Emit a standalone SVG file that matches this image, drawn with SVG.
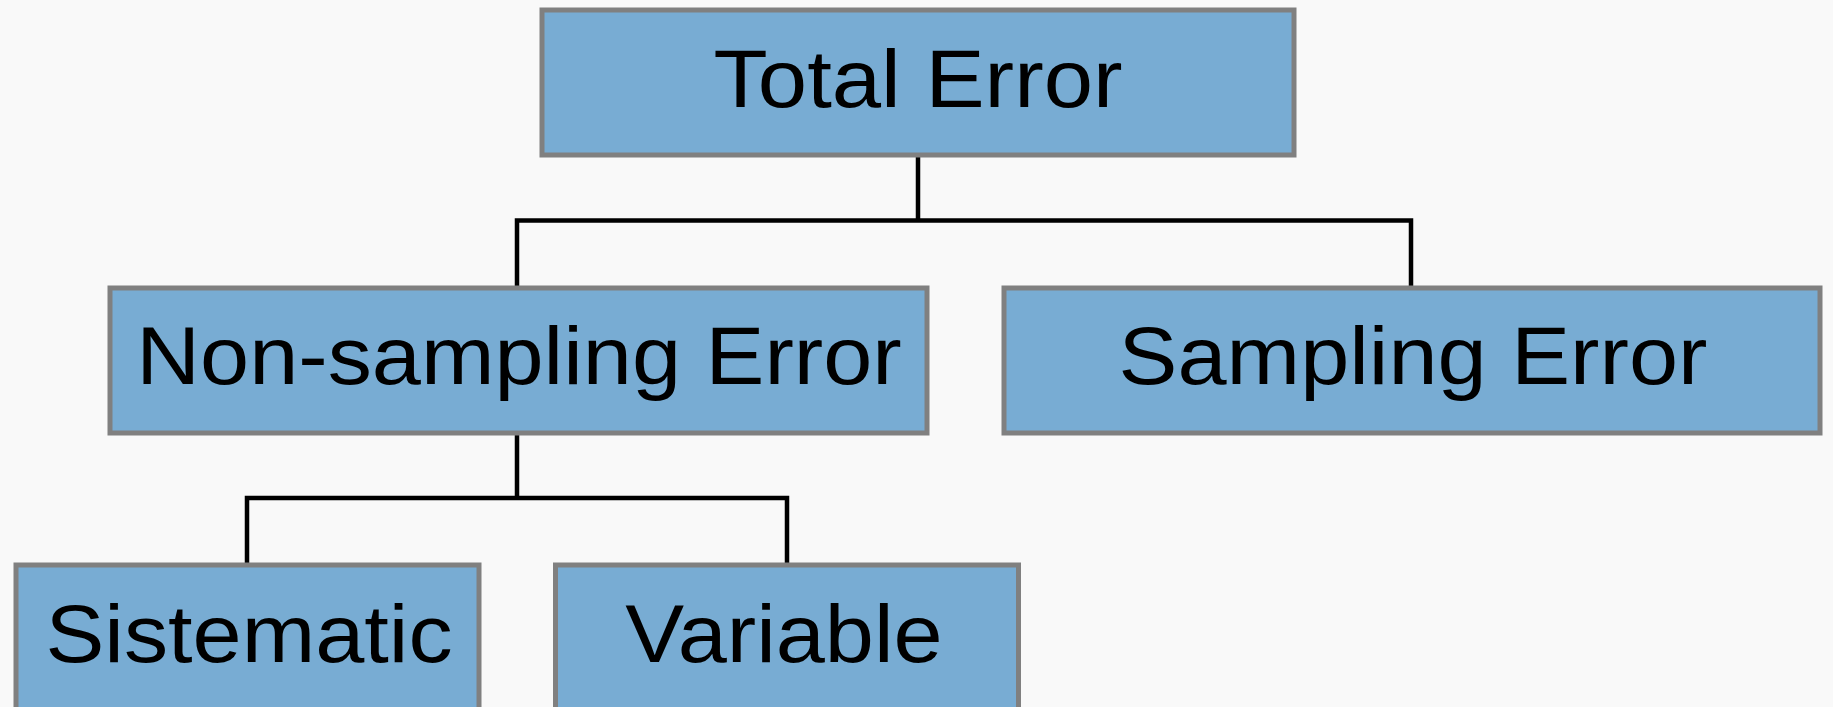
<svg xmlns="http://www.w3.org/2000/svg" width="1833" height="707" viewBox="0 0 1833 707">
  <style>
    .box { fill: #78acd3; stroke: #808080; stroke-width: 5; }
    .label { font-family: "Liberation Sans", Arial, sans-serif; font-size: 81px; fill: #000; text-anchor: middle; }
    .link { fill: none; stroke: #000; stroke-width: 4.5; stroke-linecap: square; }
  </style>
  <rect width="1833" height="707" fill="#f9f9f9"/>

  <g id="connectors">
    <path class="link" d="M918 157 V220.5 M517 220.5 H1411 M517 220.5 V286 M1411 220.5 V286"/>
    <path class="link" d="M517 434 V498 M247 498 H787 M247 498 V563 M787 498 V563"/>
  </g>

  <g id="total-error">
    <rect class="box" x="542" y="10" width="752" height="145"/>
    <text class="label" transform="translate(918 107) scale(1.095 1)">Total Error</text>
  </g>

  <g id="non-sampling-error">
    <rect class="box" x="110" y="288" width="817" height="145"/>
    <text class="label" transform="translate(519 384) scale(1.09 1)">Non-sampling Error</text>
  </g>

  <g id="sampling-error">
    <rect class="box" x="1004" y="288" width="816" height="145"/>
    <text class="label" transform="translate(1413 384) scale(1.09 1)">Sampling Error</text>
  </g>

  <g id="sistematic">
    <rect class="box" x="16" y="565" width="463" height="145"/>
    <text class="label" transform="translate(249 662) scale(1.09 1)">Sistematic</text>
  </g>

  <g id="variable">
    <rect class="box" x="555.5" y="565" width="463" height="145"/>
    <text class="label" transform="translate(784 662) scale(1.09 1)">Variable</text>
  </g>
</svg>
